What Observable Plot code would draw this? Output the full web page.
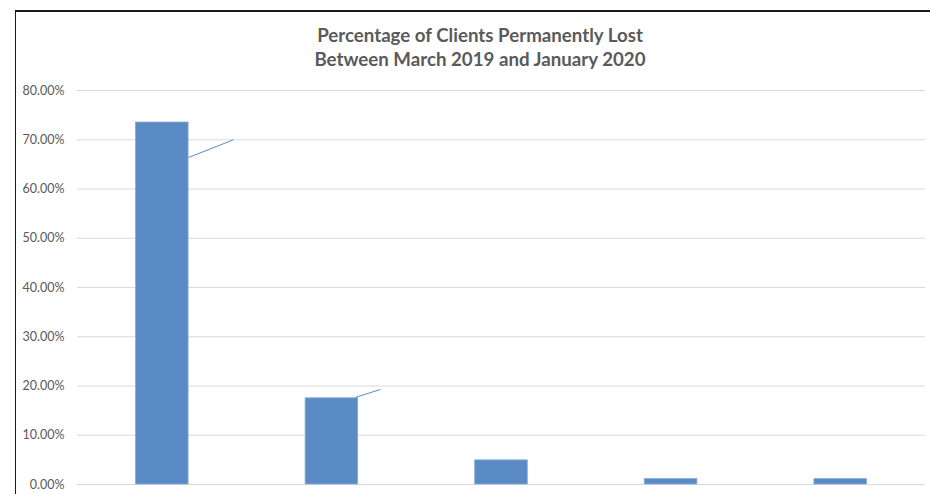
<!DOCTYPE html>
<html>
<head>
<meta charset="utf-8">
<script src="https://cdn.jsdelivr.net/npm/d3@7"></script>
<script src="https://cdn.jsdelivr.net/npm/@observablehq/plot@0.6"></script>
<style>
  html, body { margin: 0; padding: 0; background: #fff; }
  #frame { position: relative; width: 930px; height: 494px; overflow: hidden; background: #fff; }
  #border { position: absolute; left: 15px; top: 10px; width: 930px; height: 500px;
            border-top: 2px solid #1a1a1a; border-left: 1px solid #1a1a1a; box-sizing: border-box; }
  #title { position: absolute; left: 30px; top: 23px; width: 900px; text-align: center;
           font-family: Lato, "Open Sans", sans-serif; font-weight: 700; font-size: 18.7px;
           line-height: 24px; color: #5a5a5a; }
  #chart { position: absolute; left: 0; top: 75px; }
</style>
</head>
<body>
<div id="frame">
  <div id="border"></div>
  <div id="title">Percentage of Clients Permanently Lost<br>Between March 2019 and January 2020</div>
  <div id="chart"></div>
</div>
<script>
// Data
const categories = ["Category 1", "Category 2", "Category 3", "Category 4", "Category 5"];
const values = [0.735, 0.175, 0.049, 0.011, 0.011];
const yTicks = [0, 0.1, 0.2, 0.3, 0.4, 0.5, 0.6, 0.7, 0.8];
// Leftover data-label leader lines (in data units: category index position, value)
const leaderFrom = [{x: 0.655, y: 0.664}, {x: 1.64, y: 0.177}];
const leaderTo   = [{x: 0.92,  y: 0.70 }, {x: 1.787, y: 0.193}];

const barHalf = 0.155;
const bars = categories.map((c, i) => ({category: c, index: i, value: values[i]}));
const leaders = leaderFrom.map((d, i) => ({x1: d.x, y1: d.y, x2: leaderTo[i].x, y2: leaderTo[i].y}));

const plot = Plot.plot({
  width: 930,
  height: 419,
  marginLeft: 77,
  marginRight: 5,
  marginTop: 15,
  marginBottom: 10,
  style: {fontFamily: "Lato, 'Open Sans', sans-serif", fontSize: "12.5px", color: "#595959", background: "transparent"},
  x: {domain: [0, categories.length], axis: null},
  y: {domain: [0, 0.8], ticks: yTicks, tickFormat: d3.format(".2%"), tickSize: 0, tickPadding: 13, label: null},
  marks: [
    Plot.gridY(yTicks, {stroke: "#d9d9d9", strokeOpacity: 1, strokeWidth: 1}),
    Plot.rectY(bars, {x1: d => d.index + 0.5 - barHalf, x2: d => d.index + 0.5 + barHalf, y1: 0, y2: "value",
                      fill: "#5b8bc5", stroke: "#86abd8", strokeWidth: 0.8}),
    Plot.link(leaders, {x1: "x1", y1: "y1", x2: "x2", y2: "y2", stroke: "#5b8bc5", strokeWidth: 1})
  ]
});
document.getElementById("chart").appendChild(plot);
</script>
</body>
</html>
